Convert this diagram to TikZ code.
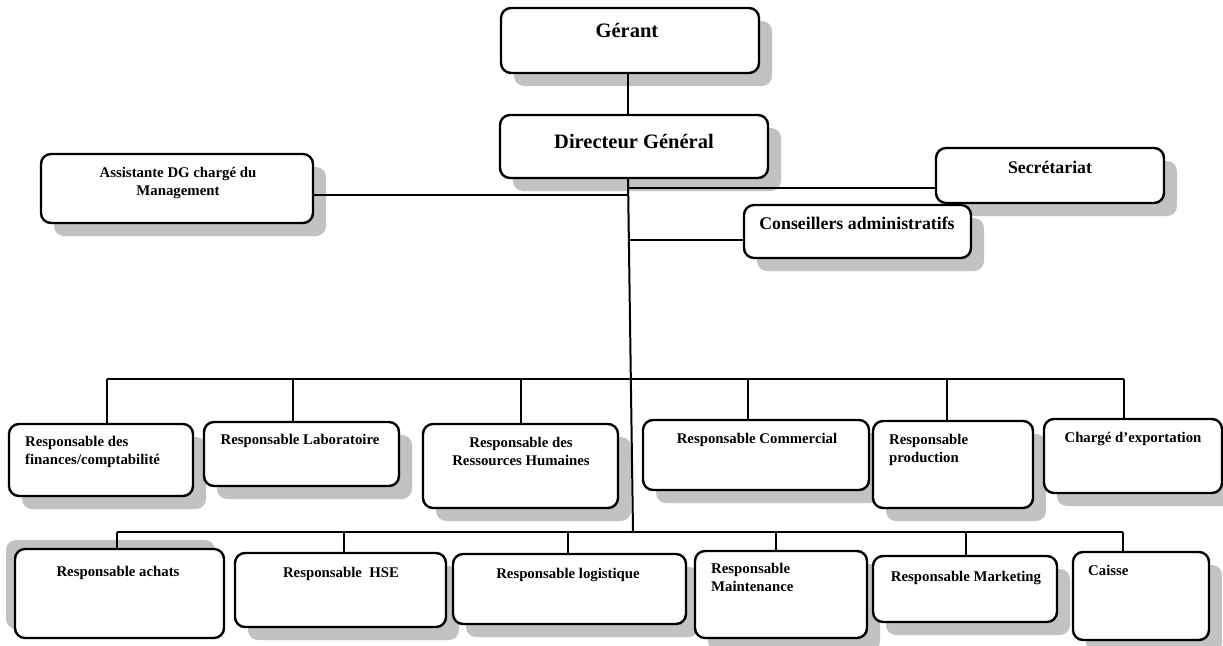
\documentclass[tikz,border=0pt]{standalone}
\usepackage{fontspec}
\setmainfont{Liberation Serif}
\usetikzlibrary{shadows,calc}
\definecolor{shade}{HTML}{C2C2C2}
\tikzset{
  box/.style={draw=black, line width=2.4pt, rounded corners=10pt, fill=white, inner sep=0pt,
    drop shadow={shadow xshift=13pt, shadow yshift=-13pt, fill=shade, opacity=1}},
  boxup/.style={draw=black, line width=2.4pt, rounded corners=10pt, fill=white, inner sep=0pt,
    drop shadow={shadow xshift=-9pt, shadow yshift=9pt, fill=shade, opacity=1}},
  link/.style={draw=black, line width=2pt},
  tbig/.style={font=\fontsize{20.5}{24}\selectfont\bfseries, inner sep=0pt, anchor=base, align=center},
  tmid/.style={font=\fontsize{17.8}{21}\selectfont\bfseries, inner sep=0pt, anchor=base, align=center},
  tsm/.style={font=\fontsize{14.8}{17.5}\selectfont\bfseries, inner sep=0pt, anchor=base, align=center},
  tsml/.style={font=\fontsize{14.8}{17.5}\selectfont\bfseries, inner sep=0pt, anchor=base west, align=left},
}
% \orgbox[style]{name}{left}{top}{right}{bottom}
\newcommand\orgbox[6][box]{%
  \node[#1, minimum width={(#5-#3)*1pt}, minimum height={(#6-#4)*1pt}] (#2)
    at ({(#3+#5)/2},{(#4+#6)/2}) {};}
\begin{document}
\begin{tikzpicture}[x=1pt,y=-1pt]
\useasboundingbox (0,0) rectangle (1223,645);

% boxes
\orgbox{ger}{501}{8}{759}{73}
\orgbox{dg}{500}{115}{768}{178}
\orgbox{asst}{41}{154}{313}{223}
\orgbox{sec}{936}{148}{1164}{203}
\orgbox{cons}{744}{205}{971}{258}

\orgbox{fin}{9}{424}{193}{496}
\orgbox{lab}{204}{422}{399}{486}
\orgbox{rh}{423}{424}{618}{508}
\orgbox{com}{643}{420}{869}{490}
\orgbox{prod}{873}{421}{1033}{508}
\orgbox{exp}{1044}{419}{1222}{493}

\orgbox[boxup]{ach}{15}{549}{224}{638}
\orgbox{hse}{235}{553}{446}{627}
\orgbox{log}{453}{554}{686}{624}
\orgbox{mnt}{695}{551}{867}{638}
\orgbox{mkt}{873}{556}{1057}{622}
\orgbox{cai}{1073}{552}{1209}{640}

% labels (multi-line labels are placed by the baseline of their last line)
\node[tbig] (ger-t) at (627,37) {Gérant};
\node[tbig] (dg-t) at (634,148) {Directeur Général};
\node[tsm] (asst-t) at (178,195) {Assistante DG chargé du\\Management};
\node[tmid] (sec-t) at (1050,173) {Secrétariat};
\node[tmid] (cons-t) at (857,229) {Conseillers administratifs};

\node[tsml] (fin-t) at (25,464) {Responsable des\\finances/comptabilité};
\node[tsm] (lab-t) at (300,444) {Responsable Laboratoire};
\node[tsm] (rh-t) at (521,465) {Responsable des\\Ressources Humaines};
\node[tsm] (com-t) at (757,443) {Responsable Commercial};
\node[tsml] (prod-t) at (889,462) {Responsable\\production};
\node[tsm] (exp-t) at (1133,442) {Chargé d’exportation};

\node[tsm] (ach-t) at (118,576) {Responsable achats};
\node[tsm] (hse-t) at (341,577) {Responsable\ \ HSE};
\node[tsm] (log-t) at (568,578) {Responsable logistique};
\node[tsml] (mnt-t) at (711,591) {Responsable\\Maintenance};
\node[tsm] (mkt-t) at (966,581) {Responsable Marketing};
\node[tsml] (cai-t) at (1088,575) {Caisse};

% junction points
\coordinate (trunktop) at ($(dg.south)+(-6,0)$);
\coordinate (trunkbot) at (633,532);
\coordinate (ja) at (628,195);
\coordinate (js) at (628,188);
\coordinate (jc) at (629,240);
\coordinate (ub) at (0,379);
\coordinate (lb) at (0,532);

\coordinate (dfin) at ($(fin.north)+(6,0)$);
\coordinate (dlab) at ($(lab.north)+(-8.5,0)$);
\coordinate (drh) at ($(rh.north)+(0.5,0)$);
\coordinate (dcom) at ($(com.north)+(-8,0)$);
\coordinate (dprod) at ($(prod.north)+(-6,0)$);
\coordinate (dexp) at ($(exp.north)+(-9,0)$);

\coordinate (dach) at ($(ach.north)+(-2.5,0)$);
\coordinate (dhse) at ($(hse.north)+(3.5,0)$);
\coordinate (dlog) at ($(log.north)+(-1.5,0)$);
\coordinate (dmnt) at ($(mnt.north)+(-5,0)$);
\coordinate (dmkt) at ($(mkt.north)+(1,0)$);
\coordinate (dcai) at ($(cai.north)+(-18,0)$);

% connectors
\draw[link] ($(ger.south)+(-2,0)$) -- ($(dg.north)+(-6,0)$);
\draw[link] (trunktop) -- (trunkbot);
\draw[link] (asst.east |- ja) -- (ja);
\draw[link] (js) -- (sec.west |- js);
\draw[link] (jc) -- (cons.west |- jc);

\draw[link] (dfin |- ub) -- (dexp |- ub);
\foreach \d in {dfin,dlab,drh,dcom,dprod,dexp}
  \draw[link] (\d |- ub) -- (\d);

\draw[link] (dach |- lb) -- (dcai |- lb);
\foreach \d in {dach,dhse,dlog,dmnt,dmkt,dcai}
  \draw[link] (\d |- lb) -- (\d);
\end{tikzpicture}
\end{document}
